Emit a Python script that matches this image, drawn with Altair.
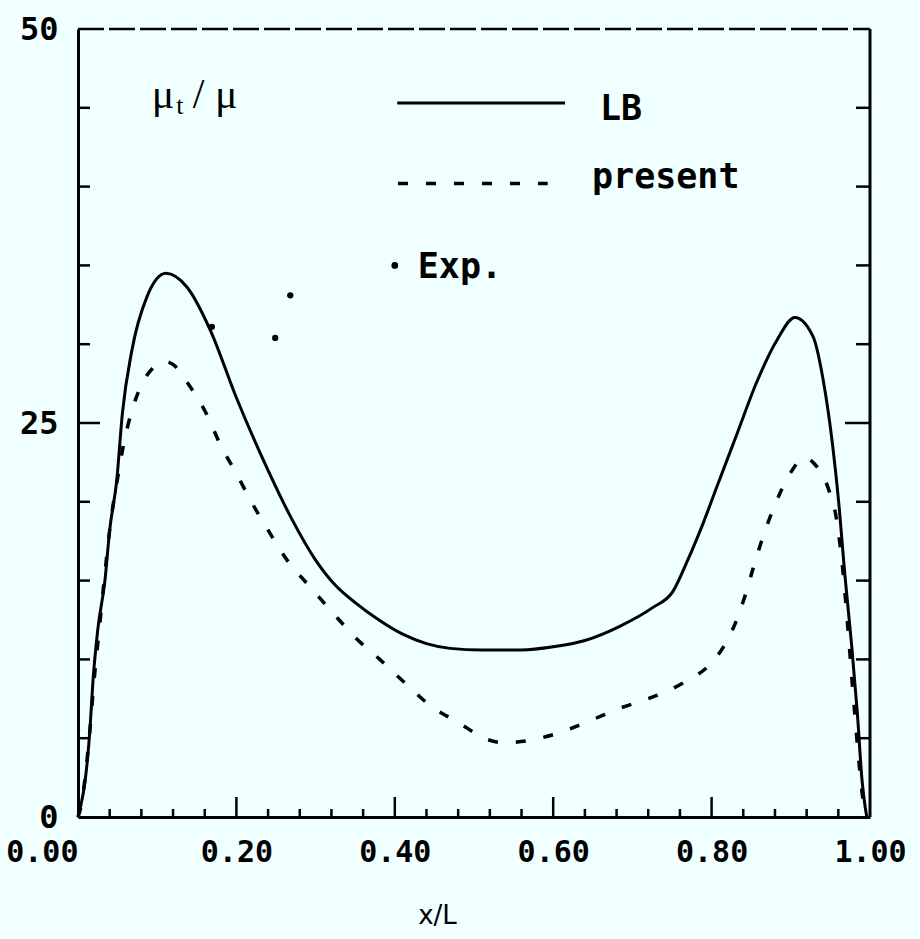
import altair as alt
import pandas as pd

# ---- data ----
lb_x = [0.0, 0.003, 0.009, 0.015, 0.019, 0.025, 0.034, 0.040, 0.049, 0.056, 0.068, 0.087,
        0.111, 0.138, 0.167, 0.200, 0.240, 0.270, 0.300, 0.325, 0.350, 0.380, 0.410, 0.440,
        0.470, 0.510, 0.560, 0.600, 0.640, 0.684, 0.726, 0.751, 0.769, 0.789, 0.807, 0.832,
        0.857, 0.883, 0.905, 0.928, 0.941, 0.953, 0.961, 0.968, 0.977, 0.984, 0.990, 0.994, 0.996]
lb_y = [0.0, 0.6, 2.3, 5.5, 8.7, 11.9, 15.0, 18.2, 21.4, 25.6, 29.6, 33.0,
        34.5, 33.6, 30.9, 26.6, 22.0, 18.9, 16.3, 14.7, 13.6, 12.5, 11.6, 11.0,
        10.7, 10.6, 10.6, 10.8, 11.2, 12.1, 13.3, 14.3, 16.2, 18.6, 21.0, 24.3,
        27.6, 30.3, 31.7, 30.5, 27.7, 23.5, 19.7, 15.5, 10.8, 6.6, 2.3, 0.6, 0.0]

pr_x = [0.0, 0.003, 0.009, 0.015, 0.020, 0.027, 0.034, 0.042, 0.050, 0.057, 0.067, 0.081,
        0.095, 0.110, 0.125, 0.139, 0.163, 0.179, 0.201, 0.220, 0.240, 0.264, 0.293, 0.321,
        0.350, 0.381, 0.413, 0.444, 0.480, 0.518, 0.540, 0.562, 0.605, 0.646, 0.684, 0.725,
        0.764, 0.800, 0.815, 0.830, 0.842, 0.852, 0.865, 0.880, 0.898, 0.918, 0.930, 0.947,
        0.958, 0.966, 0.972, 0.980, 0.986, 0.992, 0.995]
pr_y = [0.0, 0.5, 2.5, 5.5, 8.5, 12.0, 15.5, 19.0, 21.5, 23.5, 25.6, 27.5,
        28.5, 28.9, 28.5, 27.5, 25.5, 23.7, 21.7, 19.9, 18.2, 16.3, 14.6, 13.0,
        11.4, 10.0, 8.5, 7.1, 6.0, 4.9, 4.7, 4.8, 5.3, 6.1, 6.9, 7.6,
        8.5, 9.8, 10.8, 12.3, 14.0, 15.7, 17.8, 19.8, 21.7, 22.8, 22.4, 20.9,
        18.8, 15.5, 12.0, 7.0, 3.5, 0.8, 0.0]

exp_x = [0.169, 0.249, 0.268]
exp_y = [31.1, 30.4, 33.1]

x_label_values = [0.0, 0.2, 0.4, 0.6, 0.8, 1.0]
y_label_values = [0, 25, 50]
x_minor_ticks = [0.04, 0.08, 0.12, 0.16, 0.24, 0.28, 0.32, 0.36, 0.44, 0.48, 0.52, 0.56,
                 0.64, 0.68, 0.72, 0.76, 0.84, 0.88, 0.92, 0.96]
x_major_ticks = [0.2, 0.4, 0.6, 0.8]
y_minor_ticks = [5, 10, 15, 20, 30, 35, 40, 45]
y_major_ticks = [25]

# legend / annotation positions (data coordinates)
leg_lb_x = [0.403, 0.615]
leg_lb_y = [45.3, 45.3]
leg_pr_x = [0.404, 0.593]
leg_pr_y = [40.2, 40.2]
leg_exp_x = [0.400]
leg_exp_y = [35.0]
leg_texts = ["LB", "present", "Exp."]
leg_text_x = [0.659, 0.649, 0.429]
leg_text_y = [44.2, 39.9, 34.2]

W, H = 792, 788
BLACK = "#000000"
MONO = "DejaVu Sans Mono"

xs = alt.Scale(domain=[0, 1], nice=False, zero=False)
ys = alt.Scale(domain=[0, 50], nice=False, zero=False)

lb_df = pd.DataFrame({"x": lb_x, "y": lb_y})
pr_df = pd.DataFrame({"x": pr_x, "y": pr_y})
exp_df = pd.DataFrame({"x": exp_x, "y": exp_y})

base_axis_x = alt.Axis(values=x_label_values, format=".2f", ticks=False, grid=False,
                       domain=True, domainColor=BLACK, domainWidth=3,
                       labelFont=MONO, labelFontWeight="bold", labelFontSize=30,
                       labelColor=BLACK, labelPadding=20,
                       labelAlign={"condition": {"test": "datum.value == 0", "value": "right"}, "value": "center"},
                       title="x/L", titleFont="DejaVu Sans", titleFontSize=26,
                       titleFontWeight="normal", titleColor=BLACK,
                       titleX=359, titleY=98, titleBaseline="middle", titleAnchor="start",
                       titleAlign="center")
base_axis_y = alt.Axis(values=y_label_values, ticks=False, grid=False,
                       domain=True, domainColor=BLACK, domainWidth=3,
                       labelFont=MONO, labelFontWeight="bold", labelFontSize=32,
                       labelColor=BLACK, labelPadding=20, labelBaseline="middle",
                       title=None)

lb_line = alt.Chart(lb_df).mark_line(color=BLACK, strokeWidth=3, interpolate="monotone").encode(
    x=alt.X("x:Q", scale=xs, axis=base_axis_x),
    y=alt.Y("y:Q", scale=ys, axis=base_axis_y),
    order="x:Q",
)
pr_line = alt.Chart(pr_df).mark_line(color=BLACK, strokeWidth=3.5, strokeDash=[10, 18],
                                     interpolate="monotone").encode(
    x=alt.X("x:Q", scale=xs), y=alt.Y("y:Q", scale=ys), order="x:Q"
)
exp_pts = alt.Chart(exp_df).mark_circle(color=BLACK, size=40, opacity=1).encode(
    x=alt.X("x:Q", scale=xs), y=alt.Y("y:Q", scale=ys)
)

# inward ticks
def xticks(vals, length):
    return alt.Chart(pd.DataFrame({"t": vals})).mark_rule(color=BLACK, strokeWidth=2.5).encode(
        x=alt.X("t:Q", scale=xs), y=alt.value(H), y2=alt.value(H - length))

def yticks_left(vals, length):
    return alt.Chart(pd.DataFrame({"t": vals})).mark_rule(color=BLACK, strokeWidth=2.5).encode(
        y=alt.Y("t:Q", scale=ys), x=alt.value(0), x2=alt.value(length))

def yticks_right(vals, length):
    return alt.Chart(pd.DataFrame({"t": vals})).mark_rule(color=BLACK, strokeWidth=2.5).encode(
        y=alt.Y("t:Q", scale=ys), x=alt.value(W - length), x2=alt.value(W))

frame = alt.Chart(pd.DataFrame({"d": [0]}))
right_border = frame.mark_rule(color=BLACK, strokeWidth=3).encode(
    x=alt.value(W), y=alt.value(0), y2=alt.value(H))
top_border = frame.mark_rule(color=BLACK, strokeWidth=2.5, strokeDash=[26, 5]).encode(
    x=alt.value(0), x2=alt.value(W), y=alt.value(0))

# legend
leg_lb = alt.Chart(pd.DataFrame({"x": leg_lb_x, "y": leg_lb_y})).mark_line(
    color=BLACK, strokeWidth=3).encode(x=alt.X("x:Q", scale=xs), y=alt.Y("y:Q", scale=ys))
leg_pr = alt.Chart(pd.DataFrame({"x": leg_pr_x, "y": leg_pr_y})).mark_line(
    color=BLACK, strokeWidth=3.5, strokeDash=[10, 18]).encode(
    x=alt.X("x:Q", scale=xs), y=alt.Y("y:Q", scale=ys))
leg_exp = alt.Chart(pd.DataFrame({"x": leg_exp_x, "y": leg_exp_y})).mark_circle(
    color=BLACK, size=45, opacity=1).encode(x=alt.X("x:Q", scale=xs), y=alt.Y("y:Q", scale=ys))
leg_txt = alt.Chart(pd.DataFrame({"x": leg_text_x, "y": leg_text_y, "t": leg_texts})).mark_text(
    align="left", baseline="alphabetic", font=MONO, fontSize=35, fontWeight="bold",
    color=BLACK).encode(
    x=alt.X("x:Q", scale=xs), y=alt.Y("y:Q", scale=ys), text="t:N")

# y-quantity label  mu_t / mu
mu_parts = ["μ", "t", "/ μ"]
mu_x = [0.093, 0.124, 0.145]
mu_y = [45.0, 44.6, 45.0]
mu_size = [42, 26, 42]
mu_df = pd.DataFrame({"x": mu_x, "y": mu_y, "t": mu_parts, "s": mu_size})
mu_txt = alt.Chart(mu_df).mark_text(align="left", baseline="alphabetic",
                                     font="Liberation Serif", color=BLACK).encode(
    x=alt.X("x:Q", scale=xs), y=alt.Y("y:Q", scale=ys), text="t:N",
    size=alt.Size("s:Q", scale=None, legend=None))

chart = alt.layer(
    lb_line, pr_line, exp_pts,
    xticks(x_minor_ticks, 8), xticks(x_major_ticks, 20),
    yticks_left(y_minor_ticks, 12), yticks_left(y_major_ticks, 22),
    yticks_right(y_minor_ticks, 14), yticks_right(y_major_ticks, 25),
    right_border, top_border,
    leg_lb, leg_pr, leg_exp, leg_txt, mu_txt,
).properties(
    width=W, height=H,
    padding={"left": 78, "top": 29, "right": 50, "bottom": 122},
    autosize=alt.AutoSizeParams(type="none"),
    background="#f0ffff",
).configure_view(stroke=None)

chart.save("out.html", embed_options={"renderer": "svg", "actions": False})
